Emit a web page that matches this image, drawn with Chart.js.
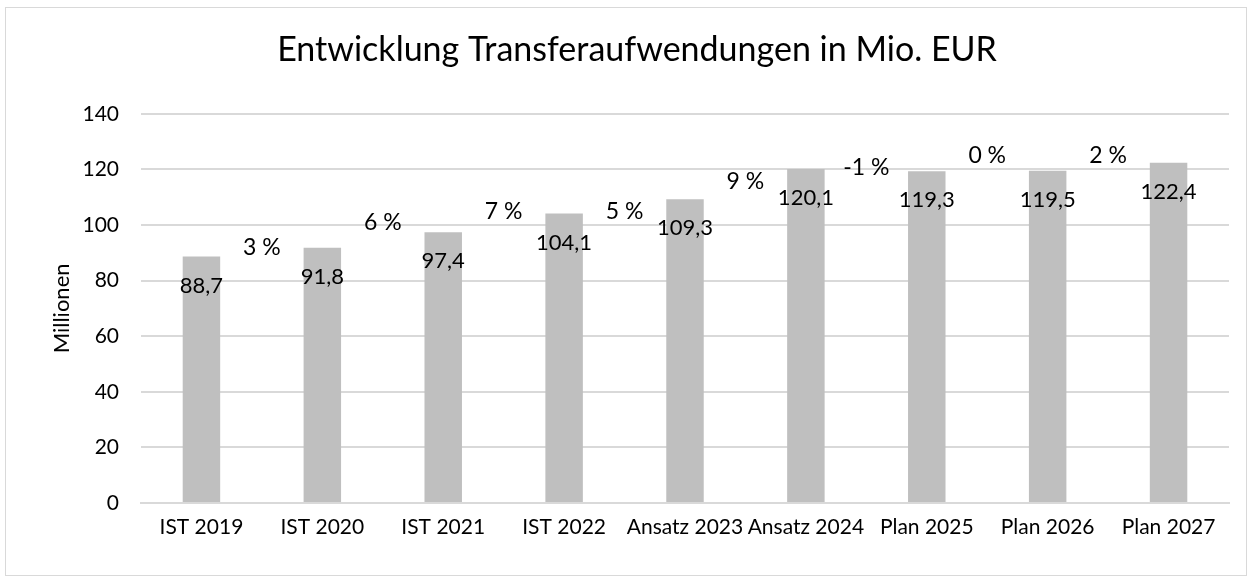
<!DOCTYPE html>
<html>
<head>
<meta charset="utf-8">
<script src="https://cdn.jsdelivr.net/npm/chart.js@4/dist/chart.umd.min.js"></script>
<style>
  html, body { margin: 0; padding: 0; background: #fff; }
  #frame { position: absolute; left: 5px; top: 7px; width: 1242px; height: 569px; border: 1px solid #d9d9d9; box-sizing: border-box; }
  #chart { position: absolute; left: 0; top: 0; }
</style>
</head>
<body>
<div id="frame"></div>
<canvas id="chart" width="1252" height="585"></canvas>
<script>
const categories = ['IST 2019', 'IST 2020', 'IST 2021', 'IST 2022', 'Ansatz 2023', 'Ansatz 2024', 'Plan 2025', 'Plan 2026', 'Plan 2027'];
const values = [88.7, 91.8, 97.4, 104.1, 109.3, 120.1, 119.3, 119.5, 122.4];
// change to previous year, shown between the bars
const changePct = [3, 6, 7, 5, 9, -1, 0, 2];
// height (in Mio.) where each change label sits
const changeAt = [91.7, 100.7, 104.7, 104.7, 115.5, 120.5, 124.8, 124.8];
const yTicks = [0, 20, 40, 60, 80, 100, 120, 140];

const FONT = 'Lato, "Open Sans", sans-serif';
const fmt = v => v.toFixed(1).replace('.', ',');

// draws the value labels inside the bars and the % labels between them
const labelPlugin = {
  id: 'labels',
  afterDatasetsDraw(chart) {
    const ctx = chart.ctx;
    ctx.save();
    ctx.fillStyle = '#000';
    ctx.font = '22px ' + FONT;
    ctx.textAlign = 'center';
    ctx.textBaseline = 'middle';
    chart.getDatasetMeta(0).data.forEach((bar, i) => {
      ctx.fillText(fmt(values[i]), bar.x, bar.y + 29);
    });
    ctx.font = '23px ' + FONT;
    chart.getDatasetMeta(1).data.forEach((pt, i) => {
      ctx.fillText(changePct[i] + ' %', pt.x, pt.y);
    });
    ctx.restore();
  }
};

new Chart(document.getElementById('chart'), {
  type: 'bar',
  data: {
    labels: categories,
    datasets: [
      {
        type: 'bar',
        data: values,
        backgroundColor: '#bfbfbf',
        grouped: false,
        barPercentage: 0.62,
        categoryPercentage: 0.5
      },
      {
        type: 'line',
        xAxisID: 'x2',
        data: changeAt.map((v, i) => ({ x: i + 0.5, y: v })),
        showLine: false,
        pointRadius: 0
      }
    ]
  },
  options: {
    responsive: false,
    animation: false,
    devicePixelRatio: 1,
    layout: { padding: { left: 45, right: 23, top: 0, bottom: 0 } },
    plugins: {
      legend: { display: false },
      tooltip: { enabled: false },
      title: {
        display: true,
        text: 'Entwicklung Transferaufwendungen in Mio. EUR',
        color: '#000',
        font: { family: FONT, size: 34, weight: 'normal' },
        padding: { top: 30, bottom: 43 }
      }
    },
    scales: {
      x: {
        offset: true,
        grid: { display: false, drawTicks: false },
        border: { color: '#d9d9d9', width: 2 },
        ticks: { color: '#000', font: { family: FONT, size: 21 }, padding: 12, maxRotation: 0, autoSkip: false },
        afterFit(s) { s.height = 82; }
      },
      x2: {
        type: 'linear',
        display: false,
        offset: false,
        grid: { offset: false },
        min: -0.5,
        max: 8.5
      },
      y: {
        min: 0,
        max: 140,
        afterBuildTicks(s) { s.ticks = yTicks.map(v => ({ value: v })); },
        grid: { color: '#d9d9d9', lineWidth: 2, drawTicks: false },
        border: { display: false },
        ticks: { color: '#000', font: { family: FONT, size: 21 }, padding: 22 },
        title: { display: true, text: 'Millionen', color: '#000', font: { family: FONT, size: 22 } },
        afterFit(s) { s.width = 96; }
      }
    }
  },
  plugins: [labelPlugin]
});
</script>
</body>
</html>
